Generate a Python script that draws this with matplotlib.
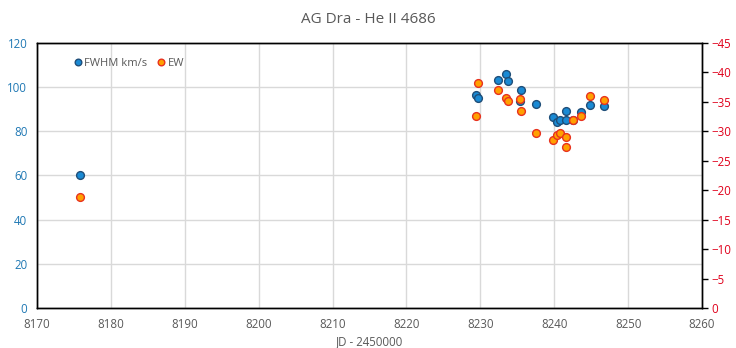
import matplotlib.pyplot as plt

# JD - 2450000
jd_fwhm = [8175.8, 8229.4, 8229.7, 8232.4, 8233.5, 8233.8, 8235.5, 8235.4, 8237.5,
           8239.8, 8240.4, 8240.8, 8241.6, 8241.6, 8242.6, 8243.6, 8244.8, 8246.7]
fwhm = [60.2, 96.5, 95.0, 103.3, 105.8, 102.8, 98.7, 93.8, 92.2,
        86.4, 84.1, 85.1, 89.1, 85.0, 85.0, 88.6, 91.8, 91.3]

jd_ew = [8175.8, 8229.7, 8229.4, 8232.4, 8233.5, 8233.8, 8235.4, 8235.5, 8237.5,
         8239.8, 8240.4, 8240.8, 8241.6, 8241.6, 8242.6, 8243.6, 8244.8, 8246.7]
ew = [-18.8, -38.2, -32.6, -37.0, -35.7, -35.1, -35.5, -33.4, -29.7,
      -28.6, -29.3, -29.8, -29.0, -27.3, -31.9, -32.6, -36.0, -35.3]

plt.rcParams['font.family'] = ['Open Sans', 'DejaVu Sans']

fig = plt.figure(figsize=(7.36, 3.48), dpi=100)
ax = fig.add_axes([0.0503, 0.115, 0.9035, 0.7614])
ax2 = ax.twinx()

ax.set_xlim(8170, 8260)
ax.set_xticks(range(8170, 8261, 10))
ax.set_ylim(0, 120)
ax.set_yticks(range(0, 121, 20))
ax2.set_ylim(0, -45)
ax2.set_yticks(range(0, -46, -5))

ax.grid(True, color='#d9d9d9', linewidth=1)
ax.set_axisbelow(True)

ax.plot(jd_fwhm, fwhm, 'o', ms=5.6, mfc='#1a8ad4', mec='#1f4e79', mew=1,
        label='FWHM km/s', zorder=3)
ax2.plot(jd_ew, ew, 'o', ms=5.6, mfc='#ffa000', mec='#e8321e', mew=1,
         label='EW', zorder=3)

for a in (ax, ax2):
    for s in a.spines.values():
        s.set_color('black')
        s.set_linewidth(1)

ax.tick_params(axis='x', length=0, pad=7, labelsize=8.3, labelcolor='#595959')
ax.tick_params(axis='y', length=0, pad=7, labelsize=8.3, labelcolor='#1f78b4')
ax2.tick_params(axis='y', length=4, width=1, color='black', pad=3,
                labelsize=8.3, labelcolor='#e0001b')

ax.set_xlabel('JD - 2450000', fontsize=8.3, color='#595959', labelpad=3)
fig.text(0.5, 0.945, 'AG Dra - He II 4686', ha='center', va='center',
         fontsize=11, color='#595959')

h1, l1 = ax.get_legend_handles_labels()
h2, l2 = ax2.get_legend_handles_labels()
ax2.legend(h1 + h2, l1 + l2, loc='upper left', bbox_to_anchor=(0.036, 0.98),
           ncol=2, frameon=False, fontsize=8, handletextpad=0.0,
           handlelength=1.2, columnspacing=0.6, labelcolor='#595959',
           markerscale=0.85)

fig.savefig('out.png', dpi=100)
